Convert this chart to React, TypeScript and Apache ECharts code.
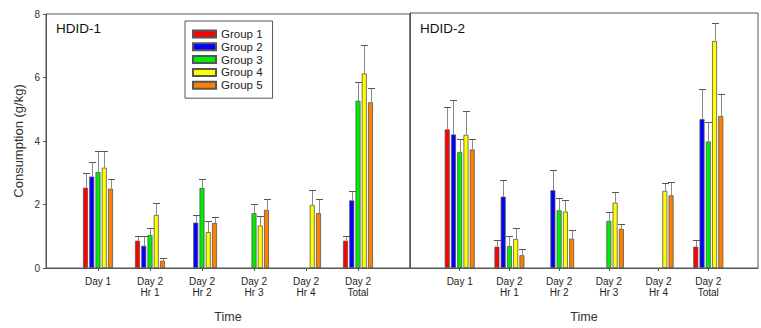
import React, { useEffect, useRef } from 'react';
import * as echarts from 'echarts';

const categories = ['Day 1', 'Day 2\nHr 1', 'Day 2\nHr 2', 'Day 2\nHr 3', 'Day 2\nHr 4', 'Day 2\nTotal'];
const groups = ['Group 1', 'Group 2', 'Group 3', 'Group 4', 'Group 5'];
const colors = ['#ff0000', '#0000ff', '#00ee00', '#ffff00', '#ff8000'];
const panelTitles = ['HDID-1', 'HDID-2'];
const yTicks = [0, 2, 4, 6, 8];

// HDID-1 means and standard errors
const hdid1G1 = [2.53, 0.86, null, null, null, 0.86];
const hdid1G2 = [2.88, 0.7, 1.43, null, null, 2.13];
const hdid1G3 = [3.02, 1.04, 2.52, 1.73, null, 5.27];
const hdid1G4 = [3.16, 1.67, 1.13, 1.34, 1.99, 6.13];
const hdid1G5 = [2.5, 0.23, 1.42, 1.83, 1.73, 5.22];
const hdid1G1Se = [0.45, 0.16, null, null, null, 0.16];
const hdid1G2Se = [0.45, 0.32, 0.25, null, null, 0.3];
const hdid1G3Se = [0.67, 0.22, 0.28, 0.3, null, 0.59];
const hdid1G4Se = [0.53, 0.39, 0.35, 0.3, 0.47, 0.89];
const hdid1G5Se = [0.31, 0.1, 0.2, 0.35, 0.43, 0.44];

// HDID-2 means and standard errors
const hdid2G1 = [4.35, 0.67, null, null, null, 0.67];
const hdid2G2 = [4.19, 2.24, 2.44, null, null, 4.67];
const hdid2G3 = [3.64, 0.69, 1.81, 1.48, null, 3.97];
const hdid2G4 = [4.18, 0.91, 1.77, 2.05, 2.42, 7.12];
const hdid2G5 = [3.72, 0.4, 0.92, 1.23, 2.28, 4.77];
const hdid2G1Se = [0.7, 0.22, null, null, null, 0.22];
const hdid2G2Se = [1.08, 0.53, 0.63, null, null, 0.94];
const hdid2G3Se = [0.41, 0.3, 0.38, 0.28, null, 0.62];
const hdid2G4Se = [0.73, 0.34, 0.36, 0.34, 0.24, 0.56];
const hdid2G5Se = [0.33, 0.21, 0.26, 0.15, 0.41, 0.7];

const panels = [
  { means: [hdid1G1, hdid1G2, hdid1G3, hdid1G4, hdid1G5], ses: [hdid1G1Se, hdid1G2Se, hdid1G3Se, hdid1G4Se, hdid1G5Se] },
  { means: [hdid2G1, hdid2G2, hdid2G3, hdid2G4, hdid2G5], ses: [hdid2G1Se, hdid2G2Se, hdid2G3Se, hdid2G4Se, hdid2G5Se] },
];

const FONT = 'Liberation Sans, Arial, sans-serif';
const BAR_W = 5;
const BAR_PITCH = 6.25;

export default function App() {
  const ref = useRef<HTMLDivElement>(null);

  useEffect(() => {
    if (!ref.current) return;
    const chart = echarts.init(ref.current, null, { renderer: 'svg' });
    const axisCats = ['', ...categories, ''];

    const grids = [
      { left: 46, top: 14, width: 364, height: 254 },
      { left: 410, top: 13, width: 364, height: 255 },
    ].map((g) => ({ ...g, show: true, borderColor: '#555', borderWidth: 1, containLabel: false }));

    const xAxes = [0, 1].map((i) => ({
      type: 'category',
      gridIndex: i,
      data: axisCats,
      boundaryGap: false,
      name: 'Time',
      nameLocation: 'middle',
      nameGap: 42,
      nameTextStyle: { fontFamily: FONT, fontSize: 12.5, color: '#333' },
      axisLine: { lineStyle: { color: '#555', width: 1 } },
      axisTick: {
        length: 3,
        lineStyle: { color: '#555' },
        interval: (idx: number) => idx > 0 && idx < axisCats.length - 1,
      },
      axisLabel: {
        fontFamily: FONT,
        fontSize: 10,
        lineHeight: 11,
        color: '#222',
        margin: 8,
        interval: 0,
      },
      splitLine: { show: false },
    }));

    const yAxes = [0, 1].map((i) => ({
      type: 'value',
      gridIndex: i,
      min: 0,
      max: 8,
      interval: 2,
      name: i === 0 ? 'Consumption (g/kg)' : '',
      nameLocation: 'middle',
      nameGap: 21,
      nameTextStyle: { fontFamily: FONT, fontSize: 13, color: '#333' },
      axisLine: { show: true, lineStyle: { color: '#555', width: 1 } },
      axisTick: { show: i === 0, length: 3, lineStyle: { color: '#555' } },
      axisLabel: {
        show: i === 0,
        fontFamily: FONT,
        fontSize: 10,
        color: '#333',
        margin: 6,
        formatter: (v: number) => (yTicks.includes(v) ? String(v) : ''),
      },
      splitLine: { show: false },
    }));

    const series: any[] = [];
    panels.forEach((panel, pi) => {
      panel.means.forEach((arr, si) => {
        series.push({
          type: 'bar',
          name: groups[si],
          xAxisIndex: pi,
          yAxisIndex: pi,
          barWidth: BAR_W,
          barGap: '25%',
          data: [null, ...arr, null],
          itemStyle: { color: colors[si], borderColor: '#555', borderWidth: 0.8 },
          emphasis: { disabled: true },
        });
      });
      const errData: any[] = [];
      panel.means.forEach((arr, si) => {
        arr.forEach((m, ci) => {
          const se = panel.ses[si][ci];
          if (m != null && se != null) errData.push([ci + 1, m, se, si]);
        });
      });
      series.push({
        type: 'custom',
        name: 'err' + pi,
        xAxisIndex: pi,
        yAxisIndex: pi,
        z: 5,
        encode: { x: 0, y: 1 },
        data: errData,
        renderItem: (params: any, api: any) => {
          const x = api.value(0);
          const m = api.value(1);
          const se = api.value(2);
          const s = api.value(3);
          const p0 = api.coord([x, m]);
          const p1 = api.coord([x, m + se]);
          const cx = Math.round(p0[0] + (s - 2) * BAR_PITCH) + 0.5;
          const yTop = Math.round(p1[1]) + 0.5;
          return {
            type: 'group',
            children: [
              { type: 'line', shape: { x1: cx, y1: p0[1], x2: cx, y2: yTop }, style: { stroke: '#8a8a8a', lineWidth: 1 } },
              { type: 'line', shape: { x1: cx - 3.5, y1: yTop, x2: cx + 3.5, y2: yTop }, style: { stroke: '#555', lineWidth: 1 } },
            ],
          };
        },
      });
    });

    chart.setOption({
      animation: false,
      backgroundColor: '#fff',
      title: [
        { text: panelTitles[0], left: 51, top: 16, textStyle: { fontFamily: FONT, fontSize: 13.5, fontWeight: 'normal', color: '#111' } },
        { text: panelTitles[1], left: 415, top: 16, textStyle: { fontFamily: FONT, fontSize: 13.5, fontWeight: 'normal', color: '#111' } },
      ],
      legend: {
        data: groups,
        orient: 'vertical',
        left: 185,
        top: 21,
        padding: [7, 10, 7, 7],
        itemWidth: 23,
        itemHeight: 7,
        itemGap: 0.8,
        icon: 'rect',
        backgroundColor: '#fff',
        borderColor: '#555',
        borderWidth: 1,
        selectedMode: false,
        textStyle: { fontFamily: FONT, fontSize: 11.5, lineHeight: 12, color: '#222' },
      },
      grid: grids,
      xAxis: xAxes,
      yAxis: yAxes,
      series,
    });

    return () => chart.dispose();
  }, []);

  return (
    <div
      ref={ref}
      style={{ position: 'absolute', left: 0, top: 0, width: 761, height: 328, overflow: 'hidden' }}
    />
  );
}
